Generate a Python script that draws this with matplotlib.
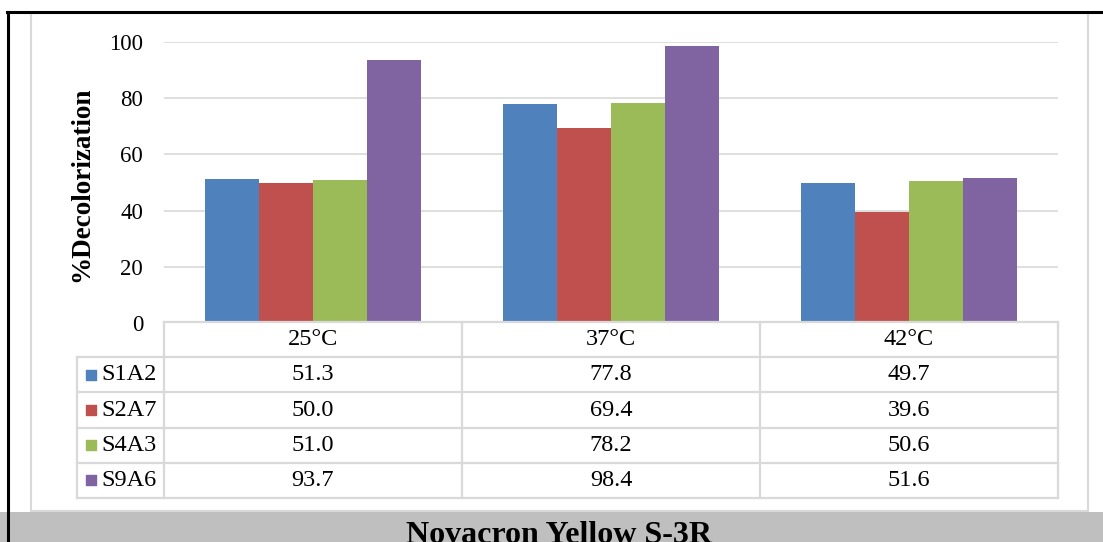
"""
Novacron Yellow S-3R 脱色率柱状图（带数据表）
"""

import matplotlib
matplotlib.use("Agg")
import matplotlib.pyplot as plt
from matplotlib.patches import Rectangle
from matplotlib.lines import Line2D

plt.rcParams['font.family'] = ['Liberation Serif', 'DejaVu Serif']
plt.rcParams['figure.dpi'] = 100

temps = ['25°C', '37°C', '42°C']
strains = ['S1A2', 'S2A7', 'S4A3', 'S9A6']
s1a2 = [51.3, 77.8, 49.7]
s2a7 = [50.0, 69.4, 39.6]
s4a3 = [51.0, 78.2, 50.6]
s9a6 = [93.7, 98.4, 51.6]
yticks = [0, 20, 40, 60, 80, 100]
colors = ['#4F81BD', '#C0504D', '#9BBB59', '#8064A2']
series = [s1a2, s2a7, s4a3, s9a6]

W, H = 1103, 542
GRID = '#D9D9D9'
FS = 16.5
TFS = 17.5


def fx(px):
    return px / W


def fy(py):
    return 1 - py / H


fig = plt.figure(figsize=(W / 100, H / 100), dpi=100)

# 外框与底部标题栏
fig.add_artist(Rectangle((fx(31), fy(511)), fx(1088) - fx(31), fy(13) - fy(511),
                         transform=fig.transFigure, fill=False, edgecolor=GRID, lw=1.5))
fig.add_artist(Rectangle((0, 0), 1, fy(512), transform=fig.transFigure,
                         facecolor='#BFBFBF', edgecolor='none'))
fig.add_artist(Line2D([fx(7), fx(1103)], [fy(12), fy(12)], transform=fig.transFigure,
                      color='black', lw=2.2))
fig.add_artist(Line2D([fx(8), fx(8)], [fy(12), 0], transform=fig.transFigure,
                      color='black', lw=2.2))
fig.text(fx(559), fy(543), 'Novacron Yellow S-3R', ha='center', va='baseline',
         fontsize=23, fontweight='bold')

# 柱状图
ax = fig.add_axes([fx(164), fy(323), fx(1058) - fx(164), fy(42) - fy(323)])
n = len(strains)
group = 0.725
bw = group / n
for i, (vals, c) in enumerate(zip(series, colors)):
    xs = [k - group / 2 + bw * (i + 0.5) for k in range(len(temps))]
    ax.bar(xs, vals, width=bw, color=c, edgecolor='none', zorder=3)
ax.set_xlim(-0.5, len(temps) - 0.5)
ax.set_ylim(0, 100)
ax.set_yticks(yticks)
ax.set_xticks([])
ax.tick_params(axis='y', length=0, pad=15, labelsize=FS)
ax.grid(axis='y', color=GRID, lw=1.2, zorder=0)
for s in ax.spines.values():
    s.set_visible(False)
fig.text(fx(82), fy(184), '%Decolorization', rotation=90, ha='center', va='center',
         fontsize=19.5, fontweight='bold')

# 数据表
tx = fig.add_axes([fx(77), fy(498), fx(1058) - fx(77), fy(322) - fy(498)])
left = -0.5 - 87 / 298
tx.set_xlim(left, len(temps) - 0.5)
nrows = n + 1
tx.set_ylim(nrows, 0)
tx.axis('off')
lk = dict(color=GRID, lw=1.6, solid_capstyle='projecting', clip_on=False)
tx.plot([-0.5, len(temps) - 0.5], [0, 0], **lk)
for r in range(1, nrows + 1):
    tx.plot([left, len(temps) - 0.5], [r, r], **lk)
tx.plot([left, left], [1, nrows], **lk)
for k in range(len(temps) + 1):
    tx.plot([k - 0.5, k - 0.5], [0, nrows], **lk)
for k, t in enumerate(temps):
    tx.text(k, 0.5, t, ha='center', va='center', fontsize=TFS)
for i, (name, vals, c) in enumerate(zip(strains, series, colors)):
    r = i + 1.5
    tx.scatter([left + 13.5 / 298], [r], marker='s', s=62, color=c, clip_on=False)
    tx.text(left + 24 / 298, r, name, ha='left', va='center', fontsize=TFS)
    for k, v in enumerate(vals):
        tx.text(k, r, f'{v:.1f}', ha='center', va='center', fontsize=TFS)

plt.savefig('out.png', dpi=100)
print('saved out.png')
